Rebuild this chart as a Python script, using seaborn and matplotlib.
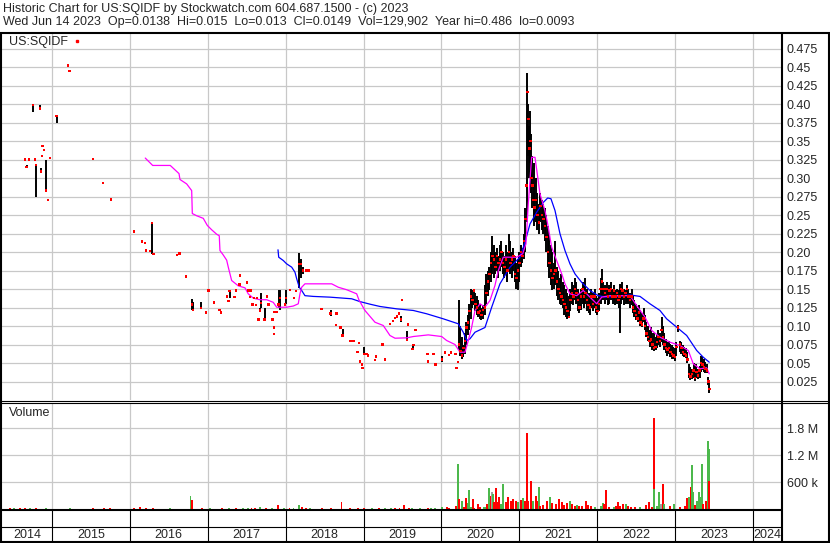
import pandas as pd
import matplotlib
matplotlib.use("Agg")
import matplotlib.pyplot as plt
import seaborn as sns
from matplotlib.lines import Line2D

# ---------------- values ----------------
title_line1 = "Historic Chart for US:SQIDF by Stockwatch.com 604.687.1500 - (c) 2023"
title_line2 = ("Wed Jun 14 2023  Op=0.0138  Hi=0.015  Lo=0.013  Cl=0.0149  "
               "Vol=129,902  Year hi=0.486  lo=0.0093")
symbol = "US:SQIDF"

# daily bars: (decimal year, high, low, close)
bars_2014_2016 = [
    (2014.654, .325, .325, .325), (2014.676, .318, .314, .315), (2014.705, .325, .325, .325),
    (2014.760, .399, .389, .399), (2014.782, .325, .325, .325), (2014.799, .319, .274, .318),
    (2014.850, .399, .394, .394), (2014.863, .314, .309, .309), (2014.872, .330, .330, .330),
    (2014.881, .343, .343, .343), (2014.898, .338, .338, .338), (2014.927, .325, .283, .283),
    (2014.949, .270, .270, .270), (2014.975, .327, .327, .327), (2015.061, .384, .374, .384),
    (2015.206, .452, .452, .452), (2015.228, .445, .445, .445), (2015.527, .326, .326, .326),
    (2015.655, .293, .293, .293), (2015.758, .271, .271, .271), (2016.053, .228, .228, .228),
    (2016.156, .216, .212, .214), (2016.194, .212, .212, .212), (2016.207, .202, .202, .202),
    (2016.259, .201, .201, .201), (2016.288, .239, .197, .239), (2016.303, .197, .197, .197),
    (2016.605, .196, .196, .196), (2016.640, .198, .198, .198), (2016.721, .167, .167, .167),
    (2016.798, .136, .121, .129), (2016.811, .132, .122, .122), (2016.917, .133, .124, .124),
    (2016.977, .118, .118, .118),
]
bars_2017_2019 = [
    (2017.012, .148, .148, .148), (2017.080, .132, .132, .132), (2017.153, .122, .122, .122),
    (2017.170, .118, .118, .118), (2017.247, .140, .140, .140), (2017.269, .134, .134, .134),
    (2017.282, .147, .138, .147), (2017.346, .139, .139, .139), (2017.363, .148, .148, .148),
    (2017.410, .156, .156, .156), (2017.414, .168, .168, .168), (2017.504, .159, .159, .159),
    (2017.517, .148, .148, .148), (2017.542, .139, .139, .139), (2017.551, .148, .148, .148),
    (2017.577, .129, .129, .129), (2017.594, .138, .138, .138), (2017.619, .128, .128, .128),
    (2017.636, .138, .138, .138), (2017.654, .109, .109, .109), (2017.671, .125, .121, .121),
    (2017.687, .144, .125, .131), (2017.731, .124, .109, .109), (2017.760, .140, .140, .140),
    (2017.782, .129, .129, .129), (2017.834, .109, .109, .109), (2017.847, .098, .098, .098),
    (2017.850, .089, .089, .089), (2017.856, .119, .119, .119), (2017.885, .119, .119, .119),
    (2017.911, .149, .124, .129), (2017.927, .148, .121, .138), (2017.995, .129, .129, .129),
    (2018.008, .149, .130, .138), (2018.056, .149, .149, .149), (2018.107, .138, .138, .138),
    (2018.133, .147, .147, .147), (2018.175, .198, .152, .184), (2018.193, .190, .165, .184),
    (2018.223, .180, .170, .175), (2018.270, .175, .175, .175), (2018.300, .175, .175, .175),
    (2018.463, .123, .123, .123), (2018.578, .122, .113, .117), (2018.646, .101, .101, .101),
    (2018.655, .117, .117, .117), (2018.706, .098, .098, .098), (2018.732, .096, .087, .087),
    (2018.835, .080, .080, .080), (2018.873, .080, .080, .080), (2018.925, .065, .065, .065),
    (2018.938, .077, .077, .077), (2018.954, .052, .052, .052), (2018.980, .048, .048, .048),
    (2018.989, .043, .043, .043), (2019.010, .071, .062, .062), (2019.040, .062, .062, .062),
    (2019.061, .060, .060, .060), (2019.147, .054, .054, .054), (2019.160, .059, .059, .059),
    (2019.246, .075, .075, .075), (2019.275, .055, .055, .055), (2019.339, .103, .103, .103),
    (2019.378, .107, .107, .107), (2019.404, .111, .111, .111), (2019.429, .113, .113, .113),
    (2019.455, .117, .117, .117), (2019.481, .113, .105, .109), (2019.493, .135, .135, .135),
    (2019.561, .093, .081, .081), (2019.567, .102, .102, .102), (2019.631, .074, .069, .069),
    (2019.639, .074, .074, .074), (2019.669, .095, .095, .095), (2019.823, .062, .062, .062),
    (2019.831, .052, .052, .052), (2019.900, .062, .062, .062), (2019.926, .048, .048, .048),
]
bars_2020 = [
    (2020.007, .059, .052, .055), (2020.045, .064, .064, .064), (2020.097, .061, .061, .061),
    (2020.119, .064, .064, .064), (2020.183, .062, .062, .062), (2020.196, .043, .043, .043),
    (2020.216, .051, .051, .051), (2020.225, .135, .068, .075), (2020.244, .100, .060, .066),
    (2020.264, .085, .055, .060), (2020.283, .075, .058, .070), (2020.302, .090, .062, .080),
    (2020.321, .105, .075, .098), (2020.341, .115, .088, .105), (2020.360, .130, .095, .120),
    (2020.379, .150, .110, .140), (2020.398, .148, .125, .135), (2020.418, .150, .128, .148),
    (2020.437, .145, .120, .130), (2020.456, .140, .115, .125), (2020.475, .135, .112, .118),
    (2020.495, .130, .110, .120), (2020.514, .125, .108, .115), (2020.533, .128, .110, .122),
    (2020.559, .155, .115, .125), (2020.578, .170, .130, .145), (2020.597, .175, .140, .160),
    (2020.617, .180, .148, .170), (2020.636, .200, .160, .185), (2020.655, .222, .170, .195),
    (2020.674, .210, .165, .190), (2020.694, .200, .170, .180), (2020.713, .205, .175, .195),
    (2020.732, .195, .165, .185), (2020.751, .210, .175, .190), (2020.771, .215, .180, .200),
    (2020.790, .200, .170, .185), (2020.809, .195, .165, .180), (2020.828, .210, .170, .190),
    (2020.848, .200, .160, .175), (2020.867, .225, .175, .200), (2020.886, .215, .170, .185),
    (2020.905, .200, .165, .190), (2020.925, .205, .175, .195), (2020.944, .195, .160, .170),
    (2020.963, .185, .150, .165), (2020.982, .190, .148, .175),
]
bars_2021 = [
    (2021.002, .200, .160, .185), (2021.021, .210, .180, .200), (2021.040, .205, .185, .195),
    (2021.059, .225, .190, .215), (2021.079, .260, .200, .245), (2021.092, .300, .240, .290),
    (2021.104, .442, .300, .416), (2021.117, .400, .330, .380), (2021.130, .370, .300, .340),
    (2021.143, .390, .320, .350), (2021.156, .360, .280, .300), (2021.169, .330, .260, .290),
    (2021.182, .320, .250, .270), (2021.194, .290, .235, .260), (2021.214, .300, .240, .270),
    (2021.233, .280, .230, .250), (2021.252, .265, .225, .240), (2021.271, .280, .240, .262),
    (2021.291, .270, .230, .250), (2021.310, .265, .225, .245), (2021.329, .260, .215, .235),
    (2021.348, .250, .200, .220), (2021.368, .235, .180, .200), (2021.387, .225, .165, .185),
    (2021.406, .210, .155, .175), (2021.425, .200, .148, .165), (2021.445, .185, .150, .170),
    (2021.464, .215, .155, .175), (2021.483, .180, .140, .160), (2021.502, .175, .135, .150),
    (2021.522, .165, .130, .145), (2021.541, .170, .128, .140), (2021.560, .160, .125, .135),
    (2021.579, .155, .115, .130), (2021.599, .150, .112, .125), (2021.618, .145, .110, .120),
    (2021.637, .140, .111, .112), (2021.656, .150, .120, .135), (2021.676, .160, .130, .145),
    (2021.695, .155, .128, .140), (2021.714, .165, .135, .150), (2021.733, .160, .130, .145),
    (2021.753, .150, .120, .135), (2021.772, .145, .118, .125), (2021.791, .150, .122, .140),
    (2021.811, .160, .130, .150), (2021.830, .155, .125, .140), (2021.849, .165, .130, .145),
    (2021.868, .150, .120, .135), (2021.888, .145, .118, .128), (2021.907, .140, .115, .125),
    (2021.926, .150, .125, .140), (2021.945, .145, .120, .130), (2021.965, .150, .125, .140),
    (2021.984, .140, .118, .125),
]
bars_2022_2023 = [
    (2022.003, .138, .115, .120), (2022.022, .145, .120, .130), (2022.042, .165, .130, .150),
    (2022.061, .177, .140, .160), (2022.080, .160, .135, .150), (2022.099, .155, .130, .145),
    (2022.119, .160, .135, .150), (2022.138, .150, .128, .140), (2022.157, .155, .130, .148),
    (2022.176, .160, .135, .150), (2022.196, .150, .130, .140), (2022.215, .155, .135, .148),
    (2022.234, .148, .128, .140), (2022.253, .150, .130, .145), (2022.273, .148, .125, .135),
    (2022.288, .157, .090, .140), (2022.305, .155, .130, .150), (2022.324, .160, .135, .148),
    (2022.343, .150, .128, .140), (2022.363, .148, .130, .145), (2022.382, .155, .132, .150),
    (2022.401, .150, .130, .140), (2022.420, .145, .125, .135), (2022.440, .150, .128, .140),
    (2022.459, .140, .118, .125), (2022.478, .135, .112, .120), (2022.497, .130, .108, .115),
    (2022.517, .125, .105, .110), (2022.536, .128, .110, .118), (2022.555, .122, .100, .105),
    (2022.574, .118, .098, .102), (2022.594, .125, .105, .110), (2022.613, .115, .095, .100),
    (2022.632, .105, .085, .090), (2022.651, .100, .080, .085), (2022.671, .095, .072, .080),
    (2022.690, .098, .075, .082), (2022.709, .090, .068, .075), (2022.728, .090, .066, .070),
    (2022.748, .085, .068, .072), (2022.767, .088, .070, .078), (2022.786, .095, .075, .085),
    (2022.805, .090, .072, .080), (2022.825, .112, .078, .095), (2022.844, .100, .075, .085),
    (2022.863, .090, .068, .075), (2022.882, .082, .063, .070), (2022.902, .078, .060, .068),
    (2022.921, .080, .062, .070), (2022.940, .076, .058, .065), (2022.959, .074, .055, .062),
    (2022.979, .072, .055, .060), (2022.998, .070, .053, .058), (2023.017, .078, .060, .072),
    (2023.040, .101, .092, .098), (2023.062, .080, .065, .075), (2023.081, .078, .062, .070),
    (2023.101, .075, .060, .065), (2023.120, .072, .058, .062), (2023.139, .070, .057, .060),
    (2023.158, .065, .050, .055), (2023.178, .048, .030, .035), (2023.197, .045, .027, .032),
    (2023.216, .042, .028, .035), (2023.236, .050, .030, .040), (2023.255, .045, .026, .030),
    (2023.274, .048, .030, .038), (2023.293, .042, .028, .033), (2023.313, .046, .030, .040),
    (2023.332, .060, .038, .050), (2023.351, .058, .040, .048), (2023.370, .055, .038, .045),
    (2023.389, .052, .036, .042), (2023.409, .048, .036, .040), (2023.428, .031, .020, .025),
    (2023.441, .025, .009, .015),
]

# moving averages: (decimal year, value)
ma_short = [
    (2016.198, .327), (2016.293, .317), (2016.519, .317), (2016.631, .306), (2016.644, .298),
    (2016.730, .292), (2016.794, .283), (2016.802, .252), (2016.858, .249), (2016.943, .2455),
    (2016.994, .236), (2017.051, .230), (2017.115, .224), (2017.148, .222), (2017.157, .202),
    (2017.199, .196), (2017.243, .189), (2017.264, .1795), (2017.307, .1615), (2017.392, .1543),
    (2017.478, .1516), (2017.520, .1435), (2017.585, .1376), (2017.671, .1355), (2017.757, .1355),
    (2017.841, .132), (2017.885, .1254), (2018.013, .1254), (2018.098, .127), (2018.162, .130),
    (2018.184, .1435), (2018.206, .1524), (2018.248, .157), (2018.591, .157), (2018.676, .1524),
    (2018.784, .149), (2018.912, .1435), (2018.941, .1353), (2019.018, .121), (2019.147, .1051),
    (2019.253, .1007), (2019.339, .0872), (2019.404, .0835), (2019.554, .084), (2019.639, .0858),
    (2019.831, .088), (2020.003, .0858), (2020.067, .0804), (2020.174, .075), (2020.238, .0646),
    (2020.302, .0646), (2020.345, .0804), (2020.388, .0984), (2020.431, .121), (2020.495, .130),
    (2020.559, .1254), (2020.623, .1345), (2020.687, .1547), (2020.730, .175), (2020.794, .193),
    (2020.880, .193), (2020.966, .193), (2021.043, .1976), (2021.085, .211), (2021.115, .265),
    (2021.158, .328), (2021.201, .328), (2021.230, .3057), (2021.265, .2786), (2021.329, .256),
    (2021.364, .238), (2021.415, .2065), (2021.479, .1885), (2021.544, .1705), (2021.586, .157),
    (2021.650, .1435), (2021.736, .141), (2021.821, .148), (2021.907, .139), (2021.993, .130),
    (2022.057, .139), (2022.164, .141), (2022.292, .141), (2022.420, .141), (2022.506, .1277),
    (2022.613, .112), (2022.699, .094), (2022.805, .0849), (2022.934, .0781), (2023.062, .0736),
    (2023.169, .0669), (2023.233, .0489), (2023.319, .0422), (2023.405, .0435), (2023.438, .0354),
]
ma_long = [
    (2017.902, .203), (2017.911, .193), (2017.970, .1885), (2018.013, .184), (2018.078, .1795),
    (2018.120, .1727), (2018.142, .1638), (2018.175, .1524), (2018.206, .148), (2018.248, .141),
    (2018.355, .140), (2018.569, .139), (2018.848, .1368), (2018.954, .133), (2019.083, .1295),
    (2019.211, .1264), (2019.425, .1232), (2019.639, .121), (2019.811, .1165), (2020.024, .1097),
    (2020.216, .103), (2020.280, .0916), (2020.324, .0804), (2020.366, .0827), (2020.431, .0916),
    (2020.559, .098), (2020.645, .1254), (2020.751, .157), (2020.880, .1795), (2021.008, .193),
    (2021.072, .213), (2021.137, .238), (2021.223, .2538), (2021.307, .267), (2021.364, .273),
    (2021.406, .272), (2021.458, .256), (2021.522, .2246), (2021.586, .202), (2021.650, .184),
    (2021.714, .1705), (2021.800, .159), (2021.907, .148), (2022.013, .141), (2022.121, .139),
    (2022.334, .141), (2022.420, .142), (2022.549, .140), (2022.677, .130), (2022.805, .121),
    (2022.891, .1097), (2023.020, .0984), (2023.148, .0872), (2023.277, .0669), (2023.361, .0578),
    (2023.438, .0511),
]

# volume: (decimal year, shares in thousands, r = down day / g = up day / n = unchanged)
volume_2014_2019 = [
    (2014.461, 20, "r"), (2014.513, 25, "g"), (2014.590, 20, "r"), (2014.654, 30, "r"),
    (2014.718, 25, "g"), (2014.795, 20, "r"), (2014.923, 15, "g"), (2015.232, 15, "g"),
    (2015.527, 15, "r"), (2015.668, 15, "r"), (2015.745, 15, "r"), (2016.053, 15, "r"),
    (2016.130, 34, "r"), (2016.207, 15, "r"), (2016.297, 20, "r"), (2016.515, 15, "g"),
    (2016.780, 280, "g"), (2016.798, 210, "r"), (2016.926, 20, "r"), (2017.029, 15, "g"),
    (2017.183, 20, "r"), (2017.273, 25, "g"), (2017.363, 20, "r"), (2017.450, 25, "g"),
    (2017.517, 30, "g"), (2017.560, 30, "r"), (2017.606, 25, "r"), (2017.671, 40, "g"),
    (2017.748, 30, "r"), (2017.825, 20, "g"), (2017.902, 94, "r"), (2017.979, 25, "g"),
    (2018.050, 20, "r"), (2018.100, 30, "g"), (2018.171, 100, "g"), (2018.210, 40, "r"),
    (2018.260, 25, "r"), (2018.313, 20, "g"), (2018.467, 20, "r"), (2018.582, 25, "r"),
    (2018.717, 150, "r"), (2018.826, 20, "r"), (2018.929, 30, "r"), (2019.006, 25, "r"),
    (2019.108, 15, "g"), (2019.200, 15, "r"), (2019.275, 20, "g"), (2019.350, 20, "g"),
    (2019.404, 25, "r"), (2019.460, 20, "r"), (2019.519, 100, "r"), (2019.580, 25, "r"),
    (2019.622, 20, "g"), (2019.725, 20, "g"), (2019.827, 25, "r"), (2019.870, 30, "g"),
    (2019.917, 20, "g"),
]
volume_2020_2021 = [
    (2020.007, 40, "g"), (2020.071, 40, "r"), (2020.097, 30, "r"), (2020.183, 56, "r"),
    (2020.209, 1000, "g"), (2020.225, 220, "r"), (2020.260, 190, "g"), (2020.289, 40, "r"),
    (2020.315, 240, "r"), (2020.337, 145, "g"), (2020.350, 420, "g"), (2020.375, 45, "g"),
    (2020.401, 220, "r"), (2020.422, 25, "r"), (2020.465, 120, "r"), (2020.495, 40, "r"),
    (2020.542, 35, "g"), (2020.568, 40, "g"), (2020.581, 110, "r"), (2020.614, 460, "g"),
    (2020.632, 280, "r"), (2020.645, 390, "n"), (2020.658, 345, "g"), (2020.674, 150, "r"),
    (2020.696, 460, "r"), (2020.717, 150, "r"), (2020.742, 260, "r"), (2020.764, 110, "g"),
    (2020.794, 550, "g"), (2020.825, 150, "r"), (2020.858, 260, "r"), (2020.889, 190, "r"),
    (2020.922, 220, "r"), (2020.957, 190, "r"), (2020.983, 150, "g"), (2021.021, 200, "r"),
    (2021.051, 240, "g"), (2021.069, 190, "r"), (2021.094, 1700, "r"), (2021.111, 170, "r"),
    (2021.146, 615, "r"), (2021.171, 170, "g"), (2021.210, 280, "r"), (2021.230, 190, "r"),
    (2021.248, 500, "g"), (2021.265, 75, "r"), (2021.307, 100, "r"), (2021.351, 190, "r"),
    (2021.390, 260, "g"), (2021.415, 130, "r"), (2021.470, 120, "r"), (2021.513, 220, "r"),
    (2021.544, 150, "r"), (2021.573, 100, "r"), (2021.608, 140, "r"), (2021.646, 190, "g"),
    (2021.676, 110, "r"), (2021.714, 70, "r"), (2021.744, 100, "g"), (2021.770, 70, "r"),
    (2021.804, 70, "r"), (2021.852, 190, "r"), (2021.878, 90, "r"), (2021.920, 60, "r"),
    (2021.971, 40, "g"),
]
volume_2022_2023 = [
    (2022.048, 70, "g"), (2022.070, 140, "g"), (2022.090, 110, "r"), (2022.108, 415, "r"),
    (2022.155, 40, "r"), (2022.215, 50, "g"), (2022.241, 60, "r"), (2022.270, 150, "r"),
    (2022.292, 70, "r"), (2022.327, 120, "r"), (2022.369, 120, "g"), (2022.399, 70, "r"),
    (2022.437, 50, "r"), (2022.485, 40, "r"), (2022.549, 40, "g"), (2022.622, 90, "r"),
    (2022.665, 160, "r"), (2022.699, 50, "r"), (2022.725, 2030, "r"), (2022.732, 440, "g"),
    (2022.763, 70, "g"), (2022.789, 390, "g"), (2022.818, 110, "n"), (2022.844, 570, "r"),
    (2022.857, 120, "g"), (2022.934, 70, "r"), (2022.985, 110, "g"), (2023.062, 35, "r"),
    (2023.126, 70, "r"), (2023.156, 240, "r"), (2023.174, 270, "g"), (2023.200, 500, "r"),
    (2023.216, 975, "g"), (2023.233, 370, "g"), (2023.251, 80, "r"), (2023.277, 180, "g"),
    (2023.302, 390, "g"), (2023.319, 270, "g"), (2023.341, 1000, "g"), (2023.361, 110, "r"),
    (2023.396, 190, "r"), (2023.418, 1510, "g"), (2023.434, 1350, "g"), (2023.438, 630, "r"),
]

years = [2014, 2015, 2016, 2017, 2018, 2019, 2020, 2021, 2022, 2023, 2024]
year_labels = ["2014", "2015", "2016", "2017", "2018", "2019", "2020", "2021", "2022", "2023", "2024"]
price_ticks = [0.025, 0.05, 0.075, 0.10, 0.125, 0.15, 0.175, 0.20, 0.225, 0.25,
               0.275, 0.30, 0.325, 0.35, 0.375, 0.40, 0.425, 0.45, 0.475]
price_tick_labels = ["0.025", "0.05", "0.075", "0.10", "0.125", "0.15", "0.175", "0.20", "0.225", "0.25",
                     "0.275", "0.30", "0.325", "0.35", "0.375", "0.40", "0.425", "0.45", "0.475"]
vol_ticks = [600e3, 1.2e6, 1.8e6]
vol_tick_labels = ["600 k", "1.2 M", "1.8 M"]

# ---------------- layout ----------------
W, H = 830, 543
X0, X1 = 2014.359, 2024.359
GRID = "#c8c8c8"
vol_palette = {"r": "#ff0000", "g": "#4cb84c", "n": "#a0a0a0"}

sns.set_style("white")
plt.rcParams["font.family"] = ["Liberation Sans", "DejaVu Sans"]
plt.rcParams["font.size"] = 9


def box(left, top, right, bottom):
    return [left / W, 1 - bottom / H, (right - left) / W, (bottom - top) / H]


def frame_line(x0, y0, x1, y1, lw):
    fig.add_artist(Line2D([x0 / W, x1 / W], [1 - y0 / H, 1 - y1 / H],
                          color="black", lw=lw, solid_capstyle="butt", zorder=10))


bars = pd.DataFrame(bars_2014_2016 + bars_2017_2019 + bars_2020 + bars_2021 + bars_2022_2023,
                    columns=["date", "high", "low", "close"])
short_df = pd.DataFrame(ma_short, columns=["date", "value"])
long_df = pd.DataFrame(ma_long, columns=["date", "value"])
vol = pd.DataFrame(volume_2014_2019 + volume_2020_2021 + volume_2022_2023,
                   columns=["date", "volume", "kind"])
vol["volume"] = vol["volume"] * 1000

fig = plt.figure(figsize=(W / 100, H / 100), dpi=100)
fig.text(3 / W, 1 - 9 / H, title_line1, ha="left", va="center", fontsize=9)
fig.text(3 / W, 1 - 22 / H, title_line2, ha="left", va="center", fontsize=9)

# --- price panel ---
ax = fig.add_axes(box(2, 33, 781, 400))
ax.set_xlim(X0, X1)
ax.set_ylim(0, 0.496)
ax.set_xticks(years[1:])
ax.set_yticks(price_ticks)
ax.set_yticklabels(price_tick_labels)
ax.yaxis.tick_right()
ax.tick_params(axis="x", length=0, labelbottom=False)
ax.tick_params(axis="y", length=0, pad=4, labelsize=9)
ax.grid(True, color=GRID, lw=0.9)
ax.set_axisbelow(True)
for s in ax.spines.values():
    s.set_visible(False)

ax.vlines(bars["date"], bars["low"], bars["high"], color="black", lw=1.4, zorder=2)
sns.lineplot(data=long_df, x="date", y="value", color="#0000ff", lw=0.9,
             estimator=None, ax=ax, zorder=3)
sns.lineplot(data=short_df, x="date", y="value", color="#ff00ff", lw=0.9,
             estimator=None, ax=ax, zorder=3)
sns.scatterplot(data=bars, x="date", y="close", marker="s", s=3, color="#ff0000",
                edgecolor="none", linewidth=0, ax=ax, zorder=4)
ax.set_xlabel("")
ax.set_ylabel("")
ax.text(0.009, 0.975, symbol, transform=ax.transAxes, ha="left", va="center", fontsize=9)
ax.plot([0.0963], [0.978], marker="s", ms=1.6, color="#ff0000", transform=ax.transAxes)

# --- volume panel ---
axv = fig.add_axes(box(2, 403, 781, 509))
axv.set_xlim(X0, X1)
axv.set_ylim(0, 2.37e6)
axv.bar(vol["date"], vol["volume"], width=0.022, color=vol["kind"].map(vol_palette),
        linewidth=0, zorder=2)
axv.set_xticks(years[1:])
axv.set_yticks(vol_ticks)
axv.set_yticklabels(vol_tick_labels)
axv.yaxis.tick_right()
axv.tick_params(axis="x", length=0, labelbottom=False)
axv.tick_params(axis="y", length=0, pad=4, labelsize=9)
axv.grid(True, color=GRID, lw=0.9)
axv.set_axisbelow(True)
for s in axv.spines.values():
    s.set_visible(False)
axv.text(0.009, 0.905, "Volume", transform=axv.transAxes, ha="left", va="center", fontsize=9)

# --- year rows ---
axy = fig.add_axes(box(2, 510, 781, 543))
axy.set_xlim(X0, X1)
axy.set_ylim(0, 1)
axy.axis("off")
for y in years[1:]:
    axy.axvline(y, color="black", lw=0.8)
for y, lab in zip(years, year_labels):
    centre = (max(y, X0) + min(y + 1, X1)) / 2
    axy.text(centre, 0.25, lab, ha="center", va="center", fontsize=9)

# --- black frame ---
frame_line(0, 32.5, W, 32.5, 1.5)
frame_line(1, 32, 1, H, 1.5)
frame_line(W - 1, 32, W - 1, H, 1.5)
frame_line(781.5, 32, 781.5, H, 1.5)
frame_line(0, 400.5, W, 400.5, 0.8)
frame_line(0, 402.5, W, 402.5, 0.8)
frame_line(0, 509.5, 782, 509.5, 1.5)
frame_line(0, 527, 782, 527, 0.8)
frame_line(0, H - 1, W, H - 1, 1.5)

fig.savefig("out.png", dpi=100)
